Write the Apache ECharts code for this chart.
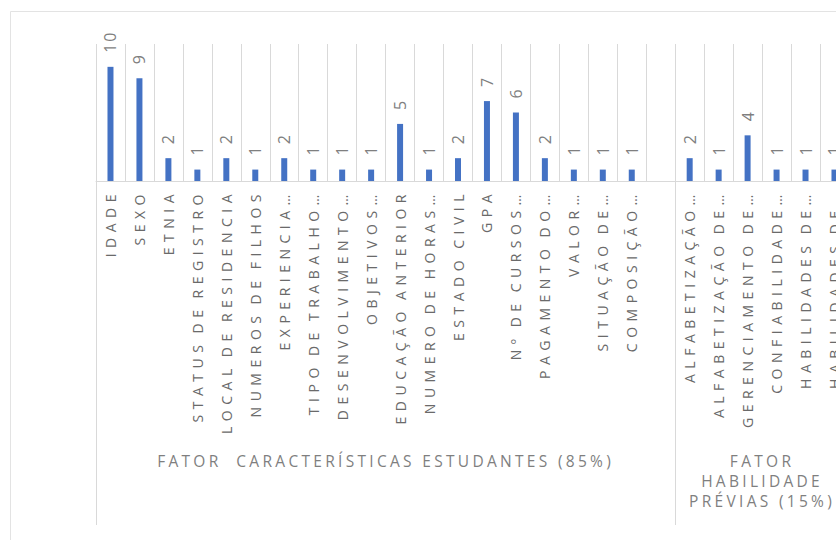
<!DOCTYPE html>
<html>
<head>
<meta charset="utf-8">
<script src="https://cdn.jsdelivr.net/npm/echarts@6/dist/echarts.min.js"></script>
<style>
  html, body { margin: 0; padding: 0; background: #ffffff; }
  #chart { width: 836px; height: 540px; }
  #chart text { white-space: pre; }
  /* Excel-style expanded character spacing per text role */
  #chart text[style*="14px"], #chart text[font-size="14"] { letter-spacing: 5.5px; word-spacing: -3px; }
  #chart text[style*="16px"], #chart text[font-size="16"] { letter-spacing: 2px; }
  #chart text[style*="15.5px"], #chart text[font-size="15.5"] { letter-spacing: 3.3px; }
</style>
</head>
<body>
<div id="chart"></div>
<script>
// Factors cited per variable, grouped by factor
const categories = [
  'IDADE', 'SEXO', 'ETNIA', 'STATUS DE REGISTRO', 'LOCAL DE RESIDENCIA',
  'NUMEROS DE FILHOS', 'EXPERIENCIA…', 'TIPO DE TRABALHO…', 'DESENVOLVIMENTO…',
  'OBJETIVOS…', 'EDUCAÇÃO ANTERIOR', 'NUMERO DE HORAS…', 'ESTADO CIVIL', 'GPA',
  'Nº DE CURSOS…', 'PAGAMENTO DO…', 'VALOR…', 'SITUAÇÃO DE…', 'COMPOSIÇÃO…', '',
  'ALFABETIZAÇÃO…', 'ALFABETIZAÇÃO DE…', 'GERENCIAMENTO DE…', 'CONFIABILIDADE…',
  'HABILIDADES DE…', 'HABILIDADES DE…'
];
const counts = [
  10, 9, 2, 1, 2, 1, 2, 1, 1, 1, 5, 1, 2, 7, 6, 2, 1, 1, 1, null,
  2, 1, 4, 1, 1, 1
];
const groupNames = ['FATOR  CARACTERÍSTICAS ESTUDANTES (85%)', 'FATOR\nHABILIDADE\nPRÉVIAS (15%)'];
const groupSizes = [20, 6];

// group boundaries and centres on a 0..N scale shared with the category axis
const groupEdges = [0];
const groupCenters = [];
groupSizes.forEach(function (n, i) {
  const start = groupEdges[i];
  groupEdges.push(start + n);
  groupCenters.push(start + n / 2);
});

const FONT = 'Open Sans';
const slot = 28.96;

const chart = echarts.init(document.getElementById('chart'), null, { renderer: 'svg' });
chart.setOption({
  animation: false,
  backgroundColor: '#ffffff',
  graphic: [{
    type: 'rect',
    shape: { x: 10.5, y: 11.5, width: 900, height: 600 },
    style: { fill: 'none', stroke: '#e3e3e3', lineWidth: 1 },
    silent: true
  }],
  grid: {
    left: 96, top: 44, width: slot * categories.length, height: 137,
    containLabel: false, outerBoundsMode: 'none'
  },
  yAxis: { type: 'value', min: 0, max: 12, show: false },
  xAxis: [{
    type: 'category',
    data: categories,
    boundaryGap: true,
    axisLine: { show: true, lineStyle: { color: '#d9d9d9', width: 1 } },
    axisTick: { show: false },
    splitLine: { show: true, interval: 0, lineStyle: { color: '#d9d9d9', width: 1 } },
    axisLabel: {
      interval: 0, rotate: 90, margin: 8,
      fontFamily: FONT, fontSize: 14, color: '#6a6a6a'
    }
  }, {
    type: 'value',
    min: 0, max: categories.length,
    position: 'bottom', offset: 0,
    axisLine: { show: false },
    splitLine: { show: false },
    axisTick: {
      show: true, customValues: groupEdges, length: 344,
      lineStyle: { color: '#d9d9d9', width: 1 }
    },
    axisLabel: {
      show: true, customValues: groupCenters, margin: 270,
      fontFamily: FONT, fontSize: 15.5, lineHeight: 20, color: '#7f7f7f',
      formatter: function (v) {
        const i = groupCenters.indexOf(v);
        return i >= 0 ? groupNames[i] : '';
      }
    }
  }],
  series: [{
    type: 'bar',
    xAxisIndex: 0,
    data: counts,
    barWidth: 6,
    itemStyle: { color: '#4472c4' },
    label: {
      show: true, position: 'top', distance: 14, rotate: 90,
      align: 'left', verticalAlign: 'middle',
      fontFamily: FONT, fontSize: 16, color: '#7f7f7f'
    }
  }]
});
</script>
</body>
</html>
